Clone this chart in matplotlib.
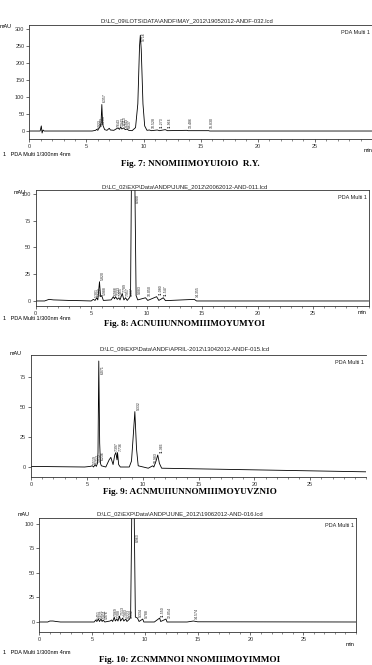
import matplotlib
matplotlib.use("Agg")
import matplotlib.pyplot as plt
from matplotlib.ticker import MultipleLocator

W, H = 372, 665
plt.rcParams['font.family'] = ['Liberation Sans', 'DejaVu Sans']

# ---------------- data ----------------
titles = [
    "D:\\LC_09\\LOTS\\DATA\\ANDF\\MAY_2012\\19052012-ANDF-032.lcd",
    "D:\\LC_02\\EXP\\Data\\ANDP\\JUNE_2012\\20062012-AND-011.lcd",
    "D:\\LC_09\\EXP\\Data\\ANDF\\APRIL-2012\\13042012-ANDF-015.lcd",
    "D:\\LC_02\\EXP\\Data\\ANDP\\JUNE_2012\\19062012-AND-016.lcd",
]
captions = [
    "Fig. 7: NNOMIIIMOYUIOIO  R.Y.",
    "Fig. 8: ACNUIIUNNOMIIIMOYUMYOI",
    "Fig. 9: ACNMUIIUNNOMIIIMOYUVZNIO",
    "Fig. 10: ZCNMMNOI NNOMIIIMOYIMMOI",
]

# chromatogram 1 (Fig. 7)
t1 = [0, 0.95, 1.05, 1.12, 1.2, 1.3, 5.5, 5.8, 5.9, 6.0, 6.1, 6.2, 6.28, 6.35, 6.42, 6.5, 6.6, 6.8,
      7.0, 7.1, 7.4, 7.6, 7.75, 7.9, 8.0, 8.1, 8.25, 8.4, 8.55, 8.7, 9.0, 9.3, 9.5, 9.65, 9.72, 9.8,
      9.95, 10.1, 10.3, 10.5, 10.7, 11.2, 11.4, 11.9, 12.1, 13.8, 13.9, 15.7, 15.8, 30]
v1 = [0, 0, 15, -6, 3, 0, 0, 2, 5, 2, 9, 12, 25, 78, 20, 12, 4, 2,
      8, 3, 2, 6, 9, 5, 12, 6, 9, 4, 6, 2, 1, 10, 80, 250, 282, 240,
      80, 15, 2, 3, 1, 3, 1, 4, 1, 2, 1, 1, 0, 0]
lab1_t = [5.9, 6.1, 6.3, 6.4, 7.6, 7.9, 8.1, 8.3, 8.55, 9.78, 10.6, 11.3, 12.0, 13.85, 15.75]
lab1_y = [5, 10, 18, 82, 8, 12, 14, 9, 6, 262, 5, 5, 5, 5, 4]
lab1_s = ["5.933", "6.123", "6.283", "6.357", "7.643", "7.943", "8.113", "8.343", "8.637", "9.716",
          "10.528", "11.273", "11.964", "13.486", "15.830"]

# chromatogram 2 (Fig. 8)
t2 = [0, 0.8, 1.2, 1.6, 2.2, 3, 4, 5, 5.2, 5.35, 5.5, 5.6, 5.75, 5.85, 5.95, 6.1, 6.8, 7.0, 7.1, 7.2,
      7.35, 7.5, 7.6, 7.8, 7.95, 8.1, 8.25, 8.45, 8.55, 8.62, 8.75, 8.95, 9.05, 9.2, 9.9, 10.1, 10.9,
      11.1, 11.5, 11.7, 14.3, 14.5, 30]
v2 = [0, 0, 1.5, 1, 0.8, 0.5, 0.3, 0, 1.5, 0.5, 3, 1, 18, 4, 5, 0.5, 1, 4, 2, 4,
      1.5, 3, 1, 7, 1, 3, 0.5, 3, 5, 100, 400, 100, 5, 1, 3, 0.5, 4,
      0.5, 3, 0.3, 1.5, 0, 0]
lab2_t = [5.25, 5.5, 5.8, 5.95, 7.0, 7.2, 7.45, 7.8, 8.05, 8.4, 8.95, 9.1, 10.0, 11.0, 11.5, 14.35]
lab2_y = [2, 3, 18, 4, 4, 4, 3, 7, 3, 3, 90, 5, 3, 4, 3, 2]
lab2_s = ["5.301", "5.562", "5.820", "5.988", "6.988", "7.223", "7.465", "7.789", "7.957", "8.337",
          "8.900", "9.083", "10.050", "11.080", "11.547", "14.355"]

# chromatogram 3 (Fig. 9)
t3 = [0, 4.8, 5.3, 5.5, 5.6, 5.75, 5.85, 5.95, 6.0, 6.07, 6.15, 6.22, 6.3, 6.7, 7.0, 7.15, 7.35, 7.5,
      7.6, 7.7, 7.75, 7.85, 8.0, 8.8, 9.0, 9.15, 9.3, 9.45, 9.6, 10.5, 10.9, 11.0, 11.2, 11.35, 11.5,
      11.7, 30]
v3 = [0.5, 0, 0.5, 1, 0, 2, 0.5, 3, 12, 88, 20, 3, 1, 0, 6, 8, 2, 10,
      12, 6, 12, 2, 0, 0, 5, 25, 46, 15, 1, -1, 1, 0, 5, 10, 3,
      -1, -4]
lab3_t = [5.5, 5.7, 5.9, 6.15, 6.15, 7.45, 7.8, 9.4, 10.95, 11.45]
lab3_y = [1, 2, 3, 5, 76, 12, 12, 46, 2, 10]
lab3_s = ["5.519", "5.712", "5.812", "6.236", "6.071", "7.397", "7.736", "9.332", "10.983", "11.366"]

# chromatogram 4 (Fig. 10)
t4 = [0, 0.8, 1.0, 1.3, 1.6, 2, 5.2, 5.35, 5.45, 5.6, 5.7, 5.85, 5.95, 6.05, 6.2, 6.7, 6.85, 6.95,
      7.1, 7.2, 7.35, 7.45, 7.6, 7.7, 7.9, 8.0, 8.2, 8.3, 8.55, 8.65, 8.75, 8.85, 9.0, 9.1, 9.3, 9.45,
      9.8, 9.9, 10.9, 11.4, 11.5, 12.0, 12.1, 14.0, 14.6, 15.0, 30]
v4 = [0, 0, 1, 1, 0.5, 0, 0, 2, 0.5, 3, 0.5, 3, 0.5, 2, 0, 1, 2, 0.5,
      5, 1, 3, 1, 6, 1, 4, 1, 3, 0.5, 3, 5, 100, 400, 100, 5, 4, 0.5,
      3, 0, 0, 4, 0.5, 3, 0, 0, 1, 0.2, 0]
lab4_t = [5.4, 5.65, 5.9, 6.15, 7.0, 7.3, 7.6, 7.9, 8.2, 8.5, 9.1, 9.35, 9.95, 11.45, 12.05, 14.65]
lab4_y = [2, 3, 3, 2, 5, 3, 6, 4, 3, 3, 80, 4, 3, 4, 3, 2]
lab4_s = ["5.451", "5.621", "5.811", "5.976", "7.069", "7.208", "7.513", "7.903", "8.223", "8.532",
          "8.963", "9.334", "9.788", "11.550", "12.054", "14.574"]

# ---------------- layout helpers ----------------
fig = plt.figure(figsize=(W / 100, H / 100), dpi=100)
fig.patch.set_facecolor("white")


def fx(x):
    return x / W


def fy(y):
    return 1 - y / H


def txt(x, y, s, **kw):
    fig.text(fx(x), fy(y), s, **kw)


def panel(rect, t, v, ylim, ymaj, labs, title, title_x, title_y, multi=True, right=True):
    l, top, r, b = rect
    ax = fig.add_axes([fx(l), fy(b), fx(r - l), (b - top) / H])
    ax.plot(t, v, color="black", lw=0.6, clip_on=True)
    ax.set_xlim(0, 30)
    ax.set_ylim(*ylim)
    ax.xaxis.set_major_locator(MultipleLocator(5))
    ax.xaxis.set_minor_locator(MultipleLocator(1))
    ax.yaxis.set_major_locator(MultipleLocator(ymaj))
    ax.set_xticks([0, 5, 10, 15, 20, 25])
    ax.tick_params(axis="both", which="major", labelsize=4, length=2, width=0.5, pad=1.5, colors="#333333")
    ax.tick_params(axis="both", which="minor", length=1.2, width=0.4, colors="#333333")
    for s in ax.spines.values():
        s.set_linewidth(0.6)
        s.set_color("#333333")
    ax.spines["right"].set_visible(right)
    lt, ly, ls = labs
    for tt, yy, ss in zip(lt, ly, ls):
        ax.text(tt + 0.08, yy + (ylim[1] - ylim[0]) * 0.012, ss, rotation=90, fontsize=2.5,
                ha="left", va="bottom", color="#222222", clip_on=True)
    if multi:
        ax.text(0.995, 0.96, "PDA Multi 1", transform=ax.transAxes, fontsize=4,
                ha="right", va="top", color="#222222")
    txt(title_x, title_y, title, fontsize=4.2, ha="center", va="center", color="#222222")
    return ax


cap_font = dict(fontsize=6.6, ha="center", va="center",
                family=["Liberation Serif", "DejaVu Serif"], weight="bold")

# Panel 1
panel((29.3, 25, 372, 139), t1, v1, (-23.5, 312), 50, (lab1_t, lab1_y, lab1_s),
      titles[0], 187, 21, right=False)
txt(0, 27, "mAU", fontsize=4, ha="left", va="center")
txt(364, 150, "min", fontsize=4, ha="left", va="center")
txt(3, 155, "1   PDA Multi 1/300nm 4nm", fontsize=4, ha="left", va="center")
txt(190, 164, captions[0], **cap_font)

# Panel 2
panel((35.7, 190, 368.5, 306), t2, v2, (-4.7, 103.7), 25, (lab2_t, lab2_y, lab2_s),
      titles[1], 185, 187)
txt(14, 193, "mAU", fontsize=4, ha="left", va="center")
txt(358, 313, "min", fontsize=4, ha="left", va="center")
txt(3, 319, "1   PDA Multi 1/300nm 4nm", fontsize=4, ha="left", va="center")
txt(185, 324, captions[1], **cap_font)

# Panel 3
panel((31, 355, 366, 477), t3, v3, (-8.3, 93), 25, (lab3_t, lab3_y, lab3_s),
      titles[2], 185, 349, right=False)
txt(10, 353, "mAU", fontsize=4, ha="left", va="center")
txt(190, 492, captions[2], **cap_font)

# Panel 4
panel((39.3, 518, 356, 632), t4, v4, (-10.2, 106), 25, (lab4_t, lab4_y, lab4_s),
      titles[3], 180, 514)
txt(18, 514, "mAU", fontsize=4, ha="left", va="center")
txt(346, 645, "min", fontsize=4, ha="left", va="center")
txt(3, 652, "1   PDA Multi 1/300nm 4nm", fontsize=4, ha="left", va="center")
txt(190, 660, captions[3], **cap_font)

fig.savefig("out.png", dpi=100, facecolor="white")
